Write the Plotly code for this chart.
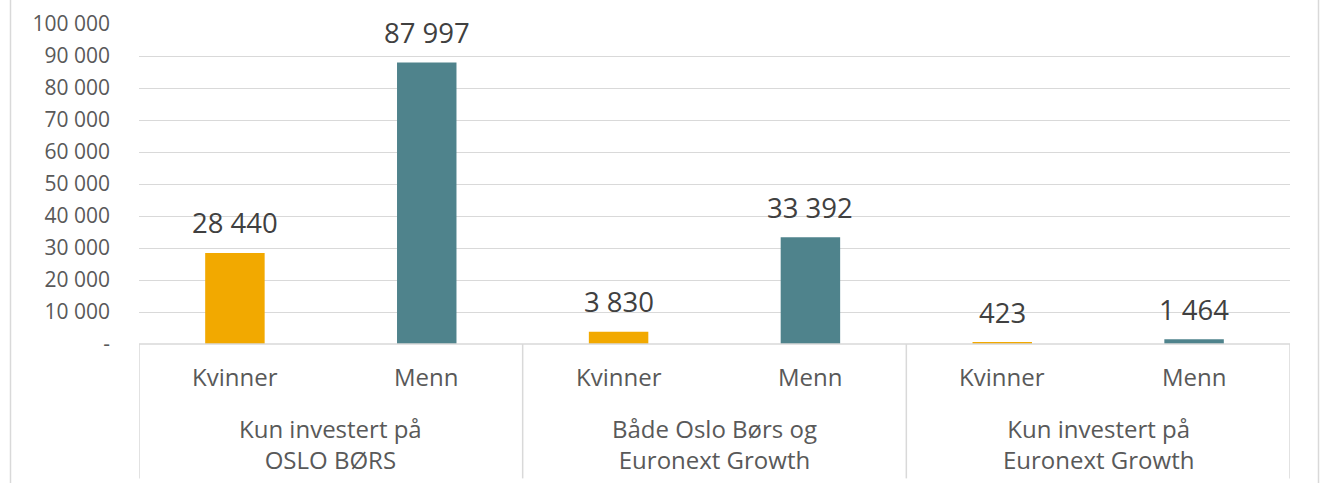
import plotly.graph_objects as go

groups = ["Kun investert på<br>OSLO BØRS", "Både Oslo Børs og<br>Euronext Growth", "Kun investert på<br>Euronext Growth"]
genders = ["Kvinner", "Menn"]
values = [28440, 87997, 3830, 33392, 423, 1464]
colors_by_gender = {"Kvinner": "#F2A900", "Menn": "#4F838C"}
tick_vals = [0, 10000, 20000, 30000, 40000, 50000, 60000, 70000, 80000, 90000, 100000]
tick_text = ["-", "10 000", "20 000", "30 000", "40 000", "50 000", "60 000", "70 000", "80 000", "90 000", "100 000"]

FONT = "Open Sans"
xs = list(range(len(values)))
bar_genders = [genders[i % 2] for i in xs]

fig = go.Figure()
fig.add_trace(go.Bar(
    x=xs, y=values,
    marker=dict(color=[colors_by_gender[g] for g in bar_genders], line=dict(width=0)),
    width=0.31,
    hoverinfo="skip",
))

annotations = []
# data labels
for i, v in enumerate(values):
    annotations.append(dict(x=i, y=v, xref="x", yref="y", text=f"{v:,}".replace(",", " "),
                            showarrow=False, yanchor="middle", yshift=30,
                            font=dict(family=FONT, size=27.5, color="#404040")))
for i, g in enumerate(bar_genders):
    annotations.append(dict(x=i, y=0, xref="x", yref="paper", text=g, showarrow=False,
                            yanchor="middle", yshift=-32,
                            font=dict(family=FONT, size=24, color="#595959")))
for j, grp in enumerate(groups):
    annotations.append(dict(x=2 * j + 0.5, y=0, xref="x", yref="paper", text=grp, showarrow=False,
                            yanchor="middle", yshift=-100,
                            font=dict(family=FONT, size=24, color="#595959")))

shapes = []
line_col = "#D9D9D9"
for k in range(len(groups) + 1):
    xv = 2 * k - 0.5
    shapes.append(dict(type="line", xref="x", yref="paper", x0=xv, x1=xv, y0=0, y1=-0.42,
                       line=dict(color=line_col, width=1.5)))
shapes.append(dict(type="line", xref="x", yref="paper", x0=-0.5, x1=5.5, y0=0, y1=0,
                   line=dict(color=line_col, width=1.5)))
# outer frame sides
for xpx in [10.5, 1318.5]:
    xp = (xpx - 139) / 1151
    shapes.append(dict(type="line", xref="paper", yref="paper", x0=xp, x1=xp, y0=-2, y1=2,
                       line=dict(color="#D9D9D9", width=1.5)))

fig.update_layout(
    width=1324, height=483,
    margin=dict(l=139, r=34, t=24, b=139, autoexpand=False),
    paper_bgcolor="white", plot_bgcolor="white",
    showlegend=False,
    xaxis=dict(range=[-0.5, 5.5], showticklabels=False, showgrid=False, zeroline=False, fixedrange=True),
    yaxis=dict(range=[0, 100000], tickvals=tick_vals, ticktext=tick_text,
               showgrid=True, gridcolor="#D9D9D9", gridwidth=1, zeroline=False,
               tickfont=dict(family=FONT, size=21, color="#595959"),
               ticklabelstandoff=28, ticks="", fixedrange=True),
    annotations=annotations, shapes=shapes,
)
fig.write_html("out.html", config={"displayModeBar": False},
               post_script="document.body.style.margin='0';")
